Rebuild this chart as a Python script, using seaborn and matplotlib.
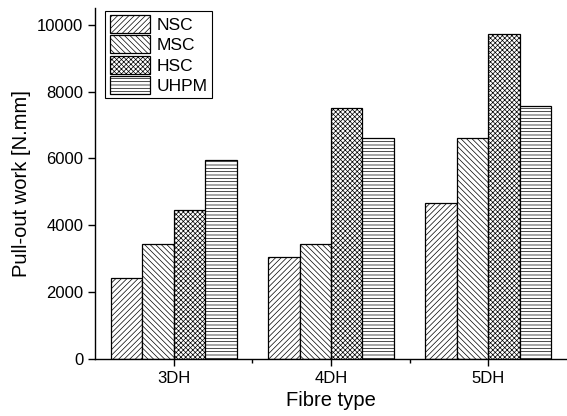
# Pull-out work por tipo de fibra e matriz
import pandas as pd
import matplotlib
matplotlib.use('Agg')
import matplotlib.pyplot as plt
import seaborn as sns
from matplotlib.ticker import FixedLocator

fibras = ['3DH', '4DH', '5DH']
matrizes = ['NSC', 'MSC', 'HSC', 'UHPM']
nsc = [2430, 3050, 4680]
msc = [3440, 3440, 6620]
hsc = [4450, 7500, 9720]
uhpm = [5950, 6600, 7560]
hachuras = ['//////', '\\\\\\\\\\\\', 'xxxxxxx', '-----']

valores = {'NSC': nsc, 'MSC': msc, 'HSC': hsc, 'UHPM': uhpm}
df = pd.DataFrame([(f, m, valores[m][i]) for m in matrizes for i, f in enumerate(fibras)],
                  columns=['fibra', 'matriz', 'trabalho'])

sns.set_theme(style='ticks')
plt.rcParams['font.family'] = ['Liberation Sans', 'DejaVu Sans']
plt.rcParams['hatch.linewidth'] = 0.5
plt.rcParams['text.color'] = 'black'
plt.rcParams['axes.labelcolor'] = 'black'
plt.rcParams['xtick.color'] = 'black'
plt.rcParams['ytick.color'] = 'black'

fig = plt.figure(figsize=(5.67, 4.16), dpi=100)
ax = fig.add_axes([0.1675, 0.137, 0.8325, 0.844])

sns.barplot(data=df, x='fibra', y='trabalho', hue='matriz', order=fibras,
            hue_order=matrizes, palette=['white'] * 4, edgecolor='black',
            linewidth=0.9, width=0.8, saturation=1, ax=ax)

for cont, h in zip(ax.containers, hachuras):
    for barra in cont:
        barra.set_hatch(h)
        barra.set_facecolor('white')
        barra.set_edgecolor('black')

ax.set_xlim(-0.5, 2.5)
ax.set_ylim(0, 10500)
ax.set_yticks([0, 2000, 4000, 6000, 8000, 10000])
ax.xaxis.set_minor_locator(FixedLocator([0.5, 1.5]))
ax.tick_params(axis='both', which='major', labelsize=12, length=5, width=1,
               color='black', labelcolor='black')
ax.tick_params(axis='x', which='minor', length=3, width=1, color='black')
for s in ['top', 'right']:
    ax.spines[s].set_visible(False)
for s in ['left', 'bottom']:
    ax.spines[s].set_color('black')
    ax.spines[s].set_linewidth(1)

ax.set_xlabel('Fibre type', fontsize=14.5, color='black')
ax.set_ylabel('Pull-out work [N.mm]', fontsize=14.5, color='black')

leg = ax.legend(loc='upper left', bbox_to_anchor=(0.022, 0.992), borderaxespad=0,
                fontsize=12.5, handlelength=2.3, handleheight=1.2, labelspacing=0.15,
                handletextpad=0.4, borderpad=0.25, fancybox=False, framealpha=1,
                edgecolor='black', title=None)
leg.get_frame().set_linewidth(0.8)
for patch, h in zip(leg.get_patches(), hachuras):
    patch.set_hatch(h)
    patch.set_facecolor('white')
    patch.set_edgecolor('black')

fig.savefig('out.png', dpi=100)
